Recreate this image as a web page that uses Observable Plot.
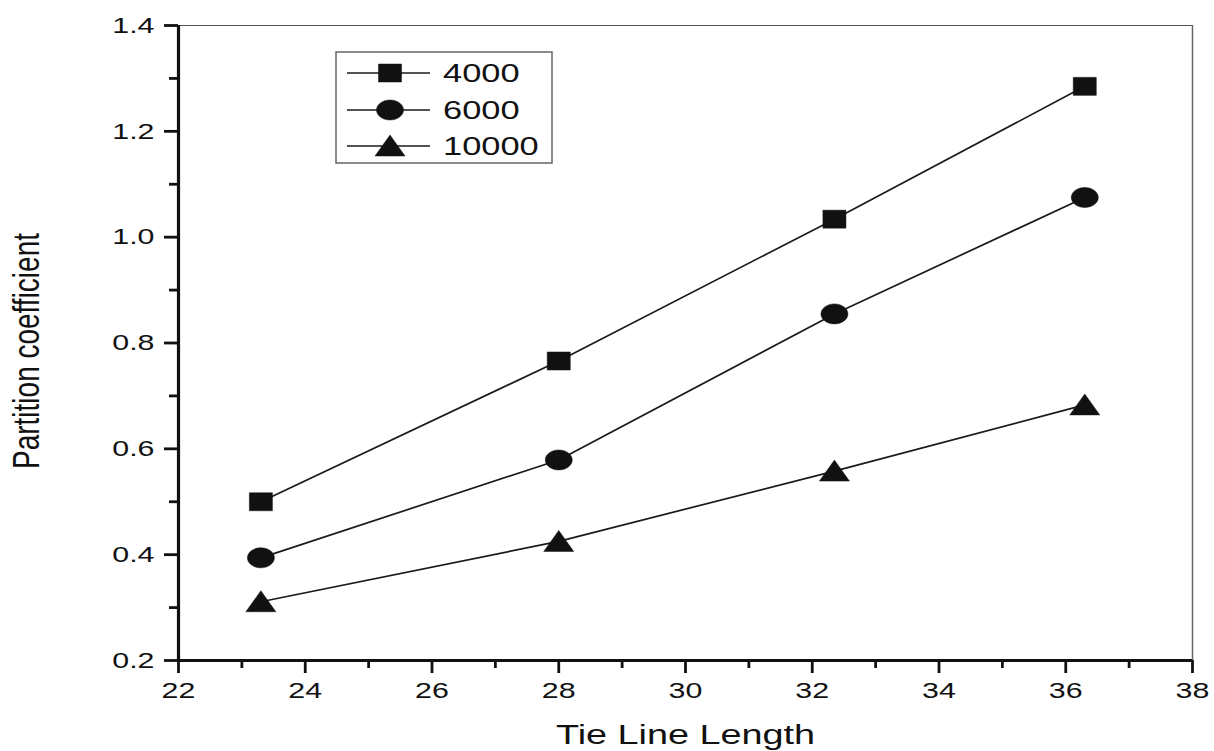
<!DOCTYPE html>
<html>
<head>
<meta charset="utf-8">
<script src="https://cdn.jsdelivr.net/npm/d3@7"></script>
<script src="https://cdn.jsdelivr.net/npm/@observablehq/plot@0.6"></script>
<style>
  html, body { margin: 0; padding: 0; background: #fff; }
  #wrap { position: relative; width: 1214px; height: 751px; }
  #legend { position: absolute; left: 0; top: 0; }
</style>
</head>
<body>
<div id="wrap"></div>
<script>
// ---- data ----
const tieLineLength = [23.3, 28.0, 32.35, 36.3];
const seriesNames = ["4000", "6000", "10000"];
const pc4000 = [0.500, 0.766, 1.034, 1.285];
const pc6000 = [0.394, 0.579, 0.855, 1.075];
const pc10000 = [0.311, 0.425, 0.558, 0.683];
const xMajorTicks = [22, 24, 26, 28, 30, 32, 34, 36, 38];
const xMinorTicks = [23, 25, 27, 29, 31, 33, 35, 37];
const yMajorTicks = [0.2, 0.4, 0.6, 0.8, 1.0, 1.2, 1.4];
const yMinorTicks = [0.3, 0.5, 0.7, 0.9, 1.1, 1.3];
const xTitle = "Tie Line Length";
const yTitle = "Partition coefficient";

const seriesValues = [pc4000, pc6000, pc10000];
const rows = seriesNames.flatMap((s, i) =>
  tieLineLength.map((x, j) => ({series: s, x, y: seriesValues[i][j]})));

// ---- custom stretched symbols ----
const sqSym = {draw(ctx, size) {
  const r = Math.sqrt(size / Math.PI), w = 1.28 * r;
  ctx.moveTo(-w, -r); ctx.lineTo(w, -r); ctx.lineTo(w, r); ctx.lineTo(-w, r); ctx.closePath();
}};
const ellSym = {draw(ctx, size) {
  const ry = Math.sqrt(size / Math.PI), rx = 1.35 * ry, k = 0.5523;
  ctx.moveTo(rx, 0);
  ctx.bezierCurveTo(rx, k * ry, k * rx, ry, 0, ry);
  ctx.bezierCurveTo(-k * rx, ry, -rx, k * ry, -rx, 0);
  ctx.bezierCurveTo(-rx, -k * ry, -k * rx, -ry, 0, -ry);
  ctx.bezierCurveTo(k * rx, -ry, rx, -k * ry, rx, 0);
  ctx.closePath();
}};
const triSym = {draw(ctx, size) {
  const r = Math.sqrt(size / Math.PI);
  ctx.moveTo(0, -1.1 * r); ctx.lineTo(1.5 * r, r); ctx.lineTo(-1.5 * r, r); ctx.closePath();
}};
const symbols = {"4000": {s: sqSym, r: 9}, "6000": {s: ellSym, r: 10}, "10000": {s: triSym, r: 10}};

const ink = "#111";
const font = "'Liberation Sans', Arial, sans-serif";
const chart = Plot.plot({
  width: 1214,
  height: 751,
  marginLeft: 178,
  marginRight: 22,
  marginTop: 25,
  marginBottom: 91,
  style: {fontFamily: font, fontSize: "22.5px", color: ink, background: "#fff"},
  x: {domain: [22, 38], label: null},
  y: {domain: [0.2, 1.4], label: null},
  marks: [
    Plot.ruleY([1.4], {stroke: "#555", strokeWidth: 1}),
    Plot.ruleX([38], {stroke: "#666", strokeWidth: 1.5}),
    Plot.axisY(yMajorTicks, {tickSize: 14, tickPadding: 10, strokeWidth: 2.8, fontSize: 22.5, fontFamily: font, tickFormat: d => d.toFixed(1), label: null}),
    Plot.axisY(yMinorTicks, {tickSize: 9, strokeWidth: 2.8, tickFormat: () => "", label: null}),
    Plot.axisX(xMajorTicks, {tickSize: 13, tickPadding: 9, strokeWidth: 2.8, fontSize: 22.5, fontFamily: font, tickFormat: d => String(d), label: null}),
    Plot.axisX(xMinorTicks, {tickSize: 8, strokeWidth: 2.8, tickFormat: () => "", label: null}),
    Plot.ruleX([22], {stroke: ink, strokeWidth: 3.2}),
    Plot.ruleY([0.2], {stroke: ink, strokeWidth: 3.2}),
    Plot.line(rows, {x: "x", y: "y", z: "series", stroke: "#1a1a1a", strokeWidth: 1.7}),
    ...seriesNames.map(s => Plot.dot(rows.filter(d => d.series === s),
      {x: "x", y: "y", symbol: symbols[s].s, r: symbols[s].r, fill: ink, stroke: ink, strokeWidth: 0.5})),
    Plot.text([xTitle], {frameAnchor: "bottom", dy: 75, fontSize: 28, fontFamily: font, textAnchor: "middle", lineAnchor: "middle", fill: ink}),
    Plot.text([yTitle], {frameAnchor: "left", dx: -152, dy: 8, rotate: -90, fontSize: 28, fontFamily: font, textAnchor: "middle", lineAnchor: "middle", fill: ink})
  ]
});
document.getElementById("wrap").appendChild(chart);

// make sure axis ticks are heavy like the reference
chart.querySelectorAll('g[aria-label$="tick"]').forEach(g => {
  g.setAttribute("stroke-width", 2.8);
  g.setAttribute("stroke", ink);
});

// horizontal stretch of text (reference image is stretched horizontally)
const SX = 1.35;
function stretch(t) {
  const tr = t.getAttribute("transform");
  if (tr && /translate\(/.test(tr)) {
    t.setAttribute("transform", tr.replace(/translate\(([^)]*)\)/, `translate($1) scale(${SX},1)`));
  } else {
    const x = +t.getAttribute("x") || 0, y = +t.getAttribute("y") || 0;
    t.setAttribute("transform", `translate(${x},${y}) scale(${SX},1) translate(${-x},${-y})`);
  }
}
chart.querySelectorAll("text").forEach(stretch);

// ---- legend ----
const leg = d3.select("#wrap").append("svg").attr("id", "legend")
  .attr("width", 1214).attr("height", 751);
leg.append("rect").attr("x", 336).attr("y", 52).attr("width", 216).attr("height", 111)
  .attr("fill", "#fff").attr("stroke", "#666").attr("stroke-width", 1.5);
const rowY = [73, 110, 146];
seriesNames.forEach((s, i) => {
  const y = rowY[i];
  leg.append("line").attr("x1", 347).attr("x2", 430).attr("y1", y).attr("y2", y)
    .attr("stroke", "#1a1a1a").attr("stroke-width", 1.7);
  const r = symbols[s].r;
  leg.append("path").attr("d", d3.symbol(symbols[s].s, Math.PI * r * r)())
    .attr("transform", `translate(390,${y})`).attr("fill", ink).attr("stroke", ink).attr("stroke-width", 0.5);
  const t = leg.append("text").attr("x", 443).attr("y", y).attr("dy", "0.35em")
    .attr("font-family", font).attr("font-size", 25.5)
    .attr("fill", ink).text(s);
  stretch(t.node());
});
</script>
</body>
</html>
